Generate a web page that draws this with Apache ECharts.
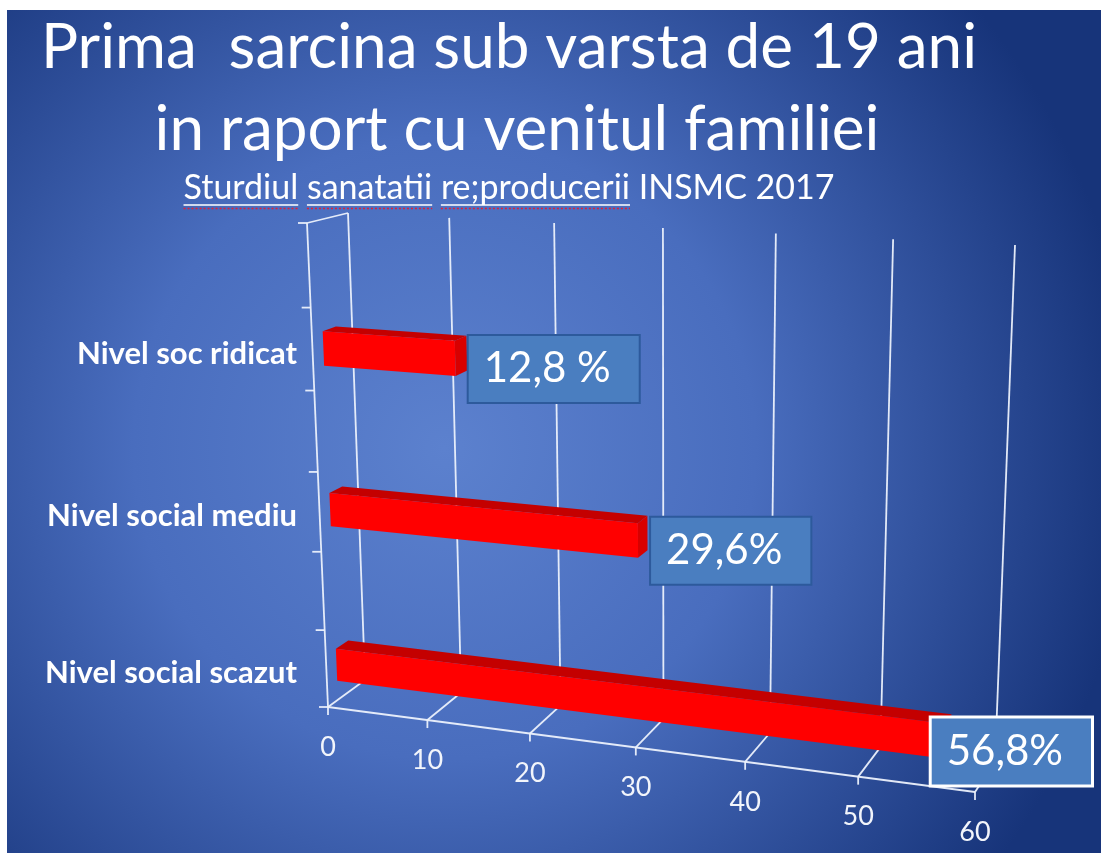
<!DOCTYPE html>
<html>
<head>
<meta charset="utf-8">
<title>Prima sarcina sub varsta de 19 ani</title>
<script src="https://cdn.jsdelivr.net/npm/echarts@6/dist/echarts.min.js"></script>
<style>
  html, body { margin: 0; padding: 0; background: #fff; }
  #chart { width: 1101px; height: 853px; }
</style>
</head>
<body>
<div id="chart"></div>
<script>
// date
const categories = ["Nivel social scazut", "Nivel social mediu", "Nivel soc ridicat"];
const values = [56.8, 29.6, 12.8];
const valueLabels = ["56,8%", "29,6%", "12,8 %"];
const xTicks = [0, 10, 20, 30, 40, 50, 60];
const wallTickCount = 6;

const titleLine1 = "Prima  sarcina sub varsta de 19 ani";
const titleLine2 = "in raport cu venitul familiei";
const subtitle = "Sturdiul sanatatii re;producerii INSMC 2017";
const misspelled = ["Sturdiul", "sanatatii", "re;producerii"];

(function () {
  let dom = document.querySelector("#chart");
  let myChart = echarts.init(dom);

  // perspectiva: patratul unitate -> patrulater (planul din fata si peretele din spate)
  function quadMap(q) {
    const [x0, y0] = q[0], [x1, y1] = q[1], [x2, y2] = q[2], [x3, y3] = q[3];
    const dx1 = x1 - x2, dx2 = x3 - x2, dx3 = x0 - x1 + x2 - x3;
    const dy1 = y1 - y2, dy2 = y3 - y2, dy3 = y0 - y1 + y2 - y3;
    const den = dx1 * dy2 - dx2 * dy1;
    const g = (dx3 * dy2 - dx2 * dy3) / den;
    const h = (dx1 * dy3 - dx3 * dy1) / den;
    const a = x1 - x0 + g * x1, b = x3 - x0 + h * x3, c = x0;
    const d = y1 - y0 + g * y1, e = y3 - y0 + h * y3, f = y0;
    return (u, v) => {
      const w = g * u + h * v + 1;
      return [(a * u + b * v + c) / w, (d * u + e * v + f) / w];
    };
  }
  const frontPlane = quadMap([[328, 707], [975, 792], [994, 261], [307, 223]]);
  const backPlane = quadMap([[365, 680], [995, 762], [1015, 245], [348, 213]]);
  function proj(u, h, d) {
    const p = frontPlane(u, h), q = backPlane(u, h);
    return [p[0] + (q[0] - p[0]) * d, p[1] + (q[1] - p[1]) * d];
  }

  // axa categoriilor acopera h in [H0, H1] pe perete
  const H0 = -0.09, H1 = 0.91;
  const D0 = 0.27, D1 = 0.6;
  const lineColor = "rgba(236,241,252,0.95)";
  const chartRight = 1094;

  const ctx = document.createElement("canvas").getContext("2d");
  function textWidth(text, font) {
    ctx.font = font;
    return ctx.measureText(text).width;
  }

  function toUH(cs, pt) {
    return [(pt[0] - cs.x) / cs.width, H0 + (1 - (pt[1] - cs.y) / cs.height) * (H1 - H0)];
  }
  function seg(a, b, w) {
    return {
      type: "line",
      shape: { x1: a[0], y1: a[1], x2: b[0], y2: b[1] },
      style: { stroke: lineColor, lineWidth: w || 1.8 },
    };
  }
  function poly(pts, color) {
    return { type: "polygon", shape: { points: pts }, style: { fill: color } };
  }

  function renderFrame(params, api) {
    const cs = params.coordSys;
    const u = toUH(cs, api.coord([api.value(0), 0]))[0];
    const kids = [];
    const f0 = proj(u, 0, 0);
    kids.push(seg(proj(u, 0, 1), proj(u, 1, 1)));
    kids.push(seg(f0, proj(u, 0, 1)));
    kids.push(seg(f0, [f0[0], f0[1] + 8]));
    kids.push({
      type: "text",
      x: f0[0],
      y: f0[1] + 40,
      style: {
        text: String(api.value(0)),
        fill: "#f2f5fb",
        fontFamily: "Lato",
        fontSize: 27,
        align: "center",
        verticalAlign: "middle",
      },
    });
    if (params.dataIndex === 0) {
      kids.push(seg(proj(0, 0, 0), proj(1, 0, 0)));
      kids.push(seg(proj(0, 0, 0), proj(0, 1, 0)));
      kids.push(seg(proj(0, 1, 0), proj(0, 1, 1)));
      for (let k = 0; k <= wallTickCount; k++) {
        const p = proj(0, k / wallTickCount, 0);
        kids.push(seg([p[0] - 9, p[1]], p));
      }
    }
    return { type: "group", children: kids };
  }

  function renderBar(params, api) {
    const cs = params.coordSys;
    const idx = api.value(1);
    const end = toUH(cs, api.coord([api.value(0), idx]));
    const start = toUH(cs, api.coord([0, idx]));
    const band = (api.size([0, 1])[1] / cs.height) * (H1 - H0);
    const hb = end[1] - band * 0.105, ht = end[1] + band * 0.105;
    const u0 = start[0], u1 = end[0];
    const kids = [];
    kids.push(poly([proj(u0, ht, D0), proj(u1, ht, D0), proj(u1, ht, D1), proj(u0, ht, D1)], "#c40000"));
    kids.push(poly([proj(u1, hb, D0), proj(u1, ht, D0), proj(u1, ht, D1), proj(u1, hb, D1)], "#d80000"));
    kids.push(poly([proj(u0, hb, D0), proj(u1, hb, D0), proj(u1, ht, D0), proj(u0, ht, D0)], "#ff0000"));

    // eticheta valorii, tinuta in interiorul zonei graficului
    const label = valueLabels[params.dataIndex];
    const corner = proj(u1, hb, D0);
    const isMax = api.value(0) === Math.max.apply(null, values);
    const bw = isMax ? 3 : 2;
    const pad = [12, 28, 12, 15];
    const boxW = textWidth(label, "42px Lato") + pad[1] + pad[3] + bw;
    const bx = Math.min(corner[0] + 13, chartRight - boxW);
    kids.push({
      type: "text",
      x: bx,
      y: corner[1] - 40,
      style: {
        text: label,
        fill: "#ffffff",
        fontFamily: "Lato",
        fontSize: 42,
        align: "left",
        verticalAlign: "top",
        backgroundColor: "#4a7ec0",
        borderColor: isMax ? "#ffffff" : "#2d5a9c",
        borderWidth: bw,
        padding: pad,
      },
    });

    const lab = proj(0, end[1], 0);
    kids.push({
      type: "text",
      x: 297,
      y: lab[1] + 1,
      style: {
        text: categories[idx],
        fill: "#ffffff",
        fontFamily: "Lato",
        fontWeight: "bold",
        fontSize: 31,
        align: "right",
        verticalAlign: "middle",
      },
    });
    return { type: "group", children: kids };
  }

  // titluri si sublinieri
  // distanta de la marginea de sus a textului pana la linia de baza (Lato)
  const BASE = 0.887;
  const titleSize = Math.round(100 * 932 / textWidth(titleLine1, "100px Lato"));
  const subSize = Math.round(100 * 652 / textWidth(subtitle, "100px Lato"));
  const subFont = subSize + "px Lato";
  const subWidth = textWidth(subtitle, subFont);
  const subLeft = 509 - subWidth / 2;
  const subBase = 201;
  const underlines = [];
  let from = 0;
  misspelled.forEach((w) => {
    const pos = subtitle.indexOf(w, from);
    from = pos + w.length;
    const x1 = subLeft + textWidth(subtitle.slice(0, pos), subFont);
    const x2 = x1 + textWidth(w, subFont);
    underlines.push({
      type: "line",
      shape: { x1: x1, y1: subBase + 4, x2: x2, y2: subBase + 4 },
      style: { stroke: "#ffffff", lineWidth: 1.5 },
    });
    underlines.push({
      type: "line",
      shape: { x1: x1, y1: subBase + 7.5, x2: x2, y2: subBase + 7.5 },
      style: { stroke: "#e0203a", lineWidth: 1.5, lineDash: [2, 2] },
    });
  });

  function titleText(text, x, baseline, size) {
    return {
      type: "text",
      x: x,
      y: baseline - BASE * size,
      style: {
        text: text,
        fill: "#ffffff",
        fontFamily: "Lato",
        fontSize: size,
        align: "center",
        verticalAlign: "top",
      },
    };
  }

  let options = {
    backgroundColor: "#ffffff",
    animation: false,
    grid: { left: 100, top: 100, width: 600, height: 600 },
    xAxis: { type: "value", min: 0, max: 60, interval: 10, show: false },
    yAxis: { type: "category", data: categories, show: false },
    graphic: [
      {
        type: "rect",
        z: -10,
        shape: { x: 7, y: 10, width: 1094, height: 843 },
        style: {
          fill: {
            type: "radial",
            x: 0.4,
            y: 0.52,
            r: 0.82,
            colorStops: [
              { offset: 0, color: "#5c81ce" },
              { offset: 0.45, color: "#496dbe" },
              { offset: 1, color: "#17347a" },
            ],
          },
        },
      },
      titleText(titleLine1, 509, 72, titleSize),
      titleText(titleLine2, 517, 154, titleSize),
      titleText(subtitle, 509, subBase, subSize),
    ].concat(underlines),
    series: [
      {
        name: "cadru",
        type: "custom",
        clip: false,
        silent: true,
        z: 1,
        renderItem: renderFrame,
        data: xTicks.map((t) => [t, 0]),
      },
      {
        name: "Prima sarcina",
        type: "custom",
        clip: false,
        z: 2,
        renderItem: renderBar,
        data: values.map((v, i) => [v, i]),
      },
    ],
  };
  myChart.setOption(options);
  window.addEventListener("resize", () => {
    myChart.resize();
  });
})();
</script>
</body>
</html>
